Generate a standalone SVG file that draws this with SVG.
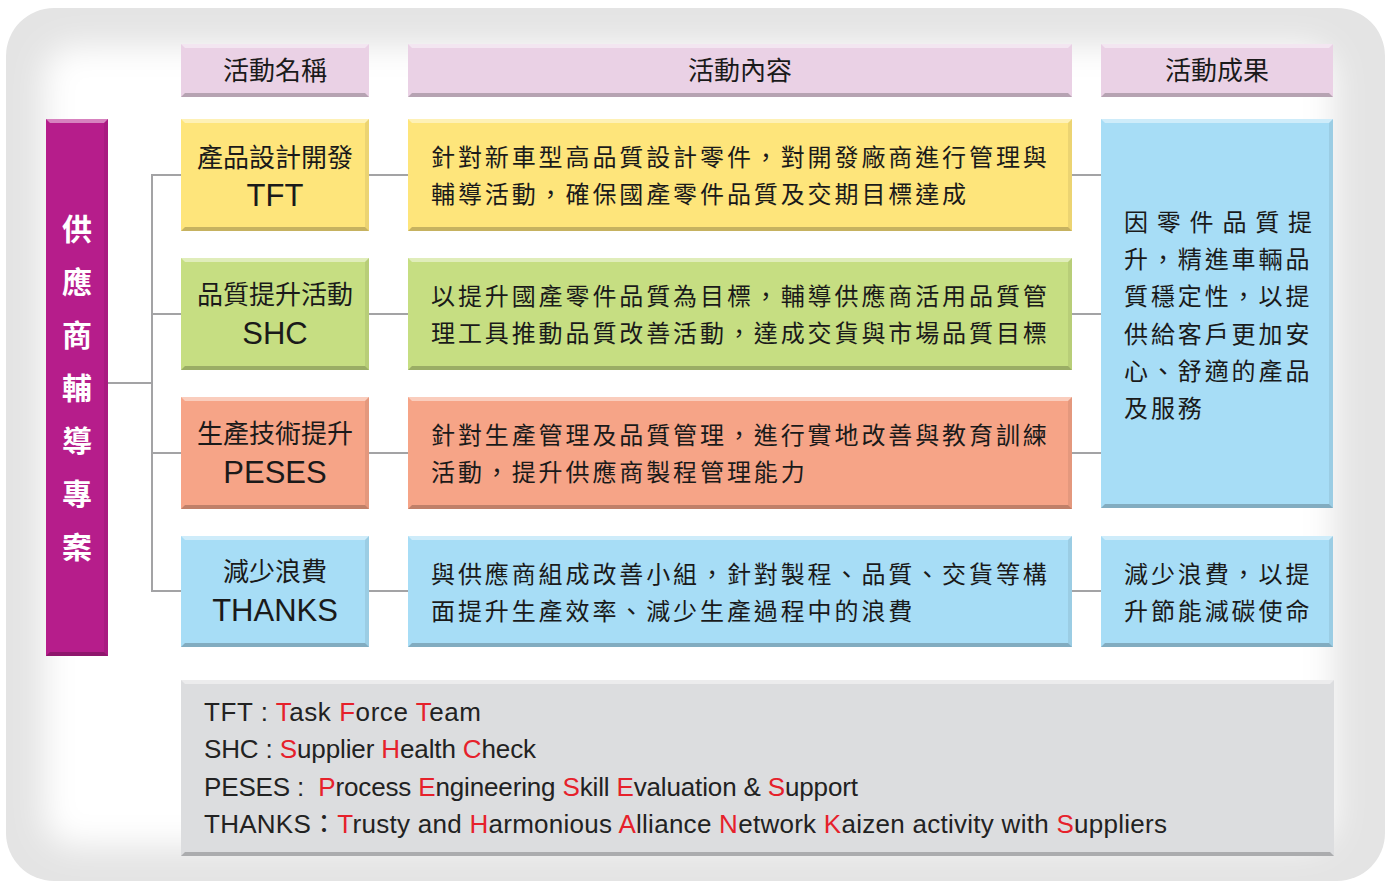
<svg xmlns="http://www.w3.org/2000/svg" width="1391" height="881" viewBox="0 0 1391 881">
<defs>
<filter id="soft" x="-10%" y="-10%" width="120%" height="120%"><feGaussianBlur stdDeviation="16"/></filter>
<clipPath id="bgclip"><rect x="6" y="8" width="1379" height="873" rx="48"/></clipPath>
</defs>
<style>
.hi{fill:#ffffff;opacity:0.45}
.lo{fill:#000000;opacity:0.22}
.sd{fill:#000000;opacity:0.07}
.pink{fill:#ead1e5}
.mag{fill:#b61d8b}
.yel{fill:#fee57b}
.grn{fill:#c6de82}
.sal{fill:#f6a487}
.blu{fill:#a7ddf6}
.gry{fill:#dcdddf}
.cj{font-family:"Noto Sans CJK TC","Noto Sans CJK SC",sans-serif;fill:#1a1a1a}
.en{font-family:"Liberation Sans",Arial,sans-serif;fill:#1a1a1a}
.hd{font-size:26px;text-anchor:middle}
.nm{font-size:26px;text-anchor:middle}
.ne{font-size:31px;text-anchor:middle}
.ct{font-size:24px;letter-spacing:2.9px}
.lg{font-size:26px;fill:#222}
.r{fill:#e6212b}
.vt{font-family:"Noto Sans CJK TC","Noto Sans CJK SC",sans-serif;font-size:30px;fill:#ffffff;text-anchor:middle;font-weight:bold}
.cn{stroke:#a3a3a5;stroke-width:2;fill:none}
</style>

<g id="background">
<rect x="6" y="8" width="1379" height="873" rx="48" fill="#e4e4e4"/>
<g clip-path="url(#bgclip)">
<rect x="44" y="46" width="1290" height="800" rx="30" fill="#ffffff" filter="url(#soft)"/>
</g>
</g>

<g id="connectors">
<polyline class="cn" points="108,383 152,383"/>
<polyline class="cn" points="181,175 152,175 152,591 181,591"/>
<line class="cn" x1="152" y1="314" x2="181" y2="314"/>
<line class="cn" x1="152" y1="453" x2="181" y2="453"/>
<line class="cn" x1="369" y1="175" x2="408" y2="175"/>
<line class="cn" x1="369" y1="314" x2="408" y2="314"/>
<line class="cn" x1="369" y1="453" x2="408" y2="453"/>
<line class="cn" x1="369" y1="591" x2="408" y2="591"/>
<line class="cn" x1="1072" y1="175" x2="1101" y2="175"/>
<line class="cn" x1="1072" y1="314" x2="1101" y2="314"/>
<line class="cn" x1="1072" y1="453" x2="1101" y2="453"/>
<line class="cn" x1="1072" y1="591" x2="1101" y2="591"/>
</g>

<g id="header-name">
<rect class="pink" x="181" y="44" width="188" height="53"/>
<polygon class="hi" points="181,44 369,44 365,48 185,48"/>
<polygon class="lo" points="181,97 369,97 365,93 185,93"/>
<text class="cj hd" x="275" y="80">活動名稱</text>
</g>
<g id="header-content">
<rect class="pink" x="408" y="44" width="664" height="53"/>
<polygon class="hi" points="408,44 1072,44 1068,48 412,48"/>
<polygon class="lo" points="408,97 1072,97 1068,93 412,93"/>
<text class="cj hd" x="740" y="80">活動內容</text>
</g>
<g id="header-result">
<rect class="pink" x="1101" y="44" width="232" height="53"/>
<polygon class="hi" points="1101,44 1333,44 1329,48 1105,48"/>
<polygon class="lo" points="1101,97 1333,97 1329,93 1105,93"/>
<text class="cj hd" x="1217" y="80">活動成果</text>
</g>

<g id="project">
<rect class="mag" x="46" y="119" width="62" height="537"/>
<polygon class="hi" points="46,119 108,119 104,123 50,123"/>
<polygon class="lo" points="46,656 108,656 104,652 50,652"/>
<polygon class="sd" points="108,119 108,656 104,652 104,123"/>
<text class="vt" x="77" y="240">供</text>
<text class="vt" x="77" y="293">應</text>
<text class="vt" x="77" y="346">商</text>
<text class="vt" x="77" y="399">輔</text>
<text class="vt" x="77" y="452">導</text>
<text class="vt" x="77" y="505">專</text>
<text class="vt" x="77" y="558">案</text>
</g>

<g id="tft-name">
<rect class="yel" x="181" y="119" width="188" height="112"/>
<polygon class="hi" points="181,119 369,119 365,123 185,123"/>
<polygon class="lo" points="181,231 369,231 365,227 185,227"/>
<polygon class="sd" points="369,119 369,231 365,227 365,123"/>
<text class="cj nm" x="275" y="167">產品設計開發</text>
<text class="en ne" x="275" y="206">TFT</text>
</g>
<g id="tft-content">
<rect class="yel" x="408" y="119" width="664" height="112"/>
<polygon class="hi" points="408,119 1072,119 1068,123 412,123"/>
<polygon class="lo" points="408,231 1072,231 1068,227 412,227"/>
<polygon class="sd" points="1072,119 1072,231 1068,227 1068,123"/>
<text class="cj ct" x="431" y="166">針對新車型高品質設計零件，對開發廠商進行管理與</text>
<text class="cj ct" x="431" y="203">輔導活動，確保國產零件品質及交期目標達成</text>
</g>

<g id="shc-name">
<rect class="grn" x="181" y="258" width="188" height="112"/>
<polygon class="hi" points="181,258 369,258 365,262 185,262"/>
<polygon class="lo" points="181,370 369,370 365,366 185,366"/>
<polygon class="sd" points="369,258 369,370 365,366 365,262"/>
<text class="cj nm" x="275" y="304">品質提升活動</text>
<text class="en ne" x="275" y="344">SHC</text>
</g>
<g id="shc-content">
<rect class="grn" x="408" y="258" width="664" height="112"/>
<polygon class="hi" points="408,258 1072,258 1068,262 412,262"/>
<polygon class="lo" points="408,370 1072,370 1068,366 412,366"/>
<polygon class="sd" points="1072,258 1072,370 1068,366 1068,262"/>
<text class="cj ct" x="431" y="305">以提升國產零件品質為目標，輔導供應商活用品質管</text>
<text class="cj ct" x="431" y="342">理工具推動品質改善活動，達成交貨與市場品質目標</text>
</g>

<g id="peses-name">
<rect class="sal" x="181" y="397" width="188" height="112"/>
<polygon class="hi" points="181,397 369,397 365,401 185,401"/>
<polygon class="lo" points="181,509 369,509 365,505 185,505"/>
<polygon class="sd" points="369,397 369,509 365,505 365,401"/>
<text class="cj nm" x="275" y="443">生產技術提升</text>
<text class="en ne" x="275" y="483">PESES</text>
</g>
<g id="peses-content">
<rect class="sal" x="408" y="397" width="664" height="112"/>
<polygon class="hi" points="408,397 1072,397 1068,401 412,401"/>
<polygon class="lo" points="408,509 1072,509 1068,505 412,505"/>
<polygon class="sd" points="1072,397 1072,509 1068,505 1068,401"/>
<text class="cj ct" x="431" y="444">針對生產管理及品質管理，進行實地改善與教育訓練</text>
<text class="cj ct" x="431" y="481">活動，提升供應商製程管理能力</text>
</g>

<g id="thanks-name">
<rect class="blu" x="181" y="536" width="188" height="111"/>
<polygon class="hi" points="181,536 369,536 365,540 185,540"/>
<polygon class="lo" points="181,647 369,647 365,643 185,643"/>
<polygon class="sd" points="369,536 369,647 365,643 365,540"/>
<text class="cj nm" x="275" y="581">減少浪費</text>
<text class="en ne" x="275" y="621">THANKS</text>
</g>
<g id="thanks-content">
<rect class="blu" x="408" y="536" width="664" height="111"/>
<polygon class="hi" points="408,536 1072,536 1068,540 412,540"/>
<polygon class="lo" points="408,647 1072,647 1068,643 412,643"/>
<polygon class="sd" points="1072,536 1072,647 1068,643 1068,540"/>
<text class="cj ct" x="431" y="583">與供應商組成改善小組，針對製程、品質、交貨等構</text>
<text class="cj ct" x="431" y="620">面提升生產效率、減少生產過程中的浪費</text>
</g>

<g id="result-main">
<rect class="blu" x="1101" y="119" width="232" height="389"/>
<polygon class="hi" points="1101,119 1333,119 1329,123 1105,123"/>
<polygon class="lo" points="1101,508 1333,508 1329,504 1105,504"/>
<polygon class="sd" points="1333,119 1333,508 1329,504 1329,123"/>
<text class="cj" font-size="24" x="1124" y="231" textLength="188" lengthAdjust="spacing">因零件品質提</text>
<text class="cj ct" x="1124" y="268">升，精進車輛品</text>
<text class="cj ct" x="1124" y="305">質穩定性，以提</text>
<text class="cj ct" x="1124" y="343">供給客戶更加安</text>
<text class="cj ct" x="1124" y="380">心、舒適的產品</text>
<text class="cj ct" x="1124" y="417">及服務</text>
</g>

<g id="result-thanks">
<rect class="blu" x="1101" y="536" width="232" height="111"/>
<polygon class="hi" points="1101,536 1333,536 1329,540 1105,540"/>
<polygon class="lo" points="1101,647 1333,647 1329,643 1105,643"/>
<polygon class="sd" points="1333,536 1333,647 1329,643 1329,540"/>
<text class="cj ct" x="1124" y="583">減少浪費，以提</text>
<text class="cj ct" x="1124" y="620">升節能減碳使命</text>
</g>

<g id="legend">
<rect class="gry" x="181" y="680" width="1153" height="176"/>
<polygon class="hi" points="181,680 1334,680 1330,684 185,684"/>
<polygon class="lo" points="181,856 1334,856 1330,852 185,852"/>
<text class="en lg" x="204" y="721" textLength="277" lengthAdjust="spacing">TFT : <tspan class="r">T</tspan>ask <tspan class="r">F</tspan>orce <tspan class="r">T</tspan>eam</text>
<text class="en lg" x="204" y="758" textLength="332" lengthAdjust="spacing">SHC : <tspan class="r">S</tspan>upplier <tspan class="r">H</tspan>ealth <tspan class="r">C</tspan>heck</text>
<text class="en lg" x="204" y="796" textLength="654" lengthAdjust="spacing">PESES :&#160; <tspan class="r">P</tspan>rocess <tspan class="r">E</tspan>ngineering <tspan class="r">S</tspan>kill <tspan class="r">E</tspan>valuation &amp; <tspan class="r">S</tspan>upport</text>
<text class="en lg" x="204" y="833" textLength="963" lengthAdjust="spacing">THANKS<tspan font-family="Noto Sans CJK TC,sans-serif">：</tspan><tspan class="r">T</tspan>rusty and <tspan class="r">H</tspan>armonious <tspan class="r">A</tspan>lliance <tspan class="r">N</tspan>etwork <tspan class="r">K</tspan>aizen activity with <tspan class="r">S</tspan>uppliers</text>
</g>
</svg>
